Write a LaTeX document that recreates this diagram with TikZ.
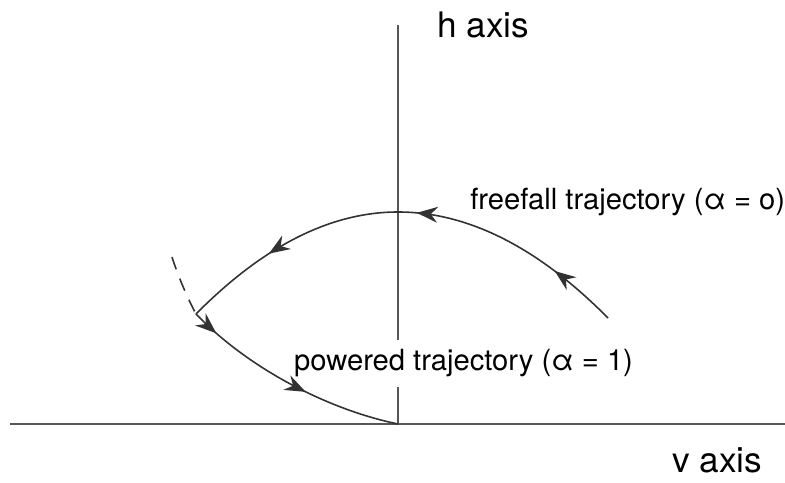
\documentclass[tikz,border=0pt]{standalone}
\usepackage{fontspec}
\setmainfont{TeX Gyre Heros}
\usetikzlibrary{arrows.meta,decorations.markings}
\definecolor{curvecol}{RGB}{50,50,50}
\definecolor{axiscol}{RGB}{85,85,85}

\begin{document}
\begin{tikzpicture}[
                x=0.2mm, y=0.2mm,
                >={Stealth[length=4.2mm, width=3.2mm, inset=1.4mm]},
                axis/.style={draw=axiscol, line width=0.6pt},
                traj/.style={draw=curvecol, line width=0.9pt},
                axislabel/.style={font=\fontsize{20}{24}\selectfont, inner sep=0pt, anchor=base west},
                trajlabel/.style={font=\fontsize{16.6}{19}\selectfont, inner sep=0pt, anchor=base west}
                ]
                \useasboundingbox (0,0) rectangle (785,483);

                % axes
                \coordinate (origin) at (398,59);
                \coordinate (htop) at (398,458);
                \coordinate (vleft) at (10,59);
                \coordinate (vright) at (785,59);
                \draw[axis] (vleft) -- (vright);
                \draw[axis] (origin) -- (htop);

                \node[axislabel] (haxis) at (437,445) {h axis};
                \node[axislabel] (vaxis) at (672,10) {v axis};

                % trajectory points
                \coordinate (ffstart) at (608,165);
                \coordinate (peak) at (398,271);
                \coordinate (turn) at (196,169);
                \coordinate (dashtop) at (172,226);

                \node[trajlabel] (fflabel) at (470,273) {freefall trajectory (α = o)};
                \node[trajlabel, fill=white, inner xsep=1pt, inner ysep=2mm] (pwlabel) at (292,112) {powered trajectory (α = 1)};

                % freefall arc
                \draw[traj, postaction={decorate, decoration={markings,
                        mark=at position 0.15 with {\arrow{>}},
                        mark=at position 0.47 with {\arrow{>}},
                        mark=at position 0.80 with {\arrow{>}}}}]
                    (ffstart) .. controls (538,235.7) and (468,271) .. (peak)
                    .. controls (330.7,271) and (263.3,237) .. (turn);

                % powered arc
                \draw[traj, postaction={decorate, decoration={markings,
                        mark=at position 0.12 with {\arrow{>}},
                        mark=at position 0.58 with {\arrow{>}}}}]
                    (turn) .. controls (250,113) and (330,73) .. (origin);

                \draw[traj, dash pattern=on 2.6mm off 2mm] (dashtop) .. controls (178,207) and (187,186) .. (turn);
            \end{tikzpicture}
\end{document}
